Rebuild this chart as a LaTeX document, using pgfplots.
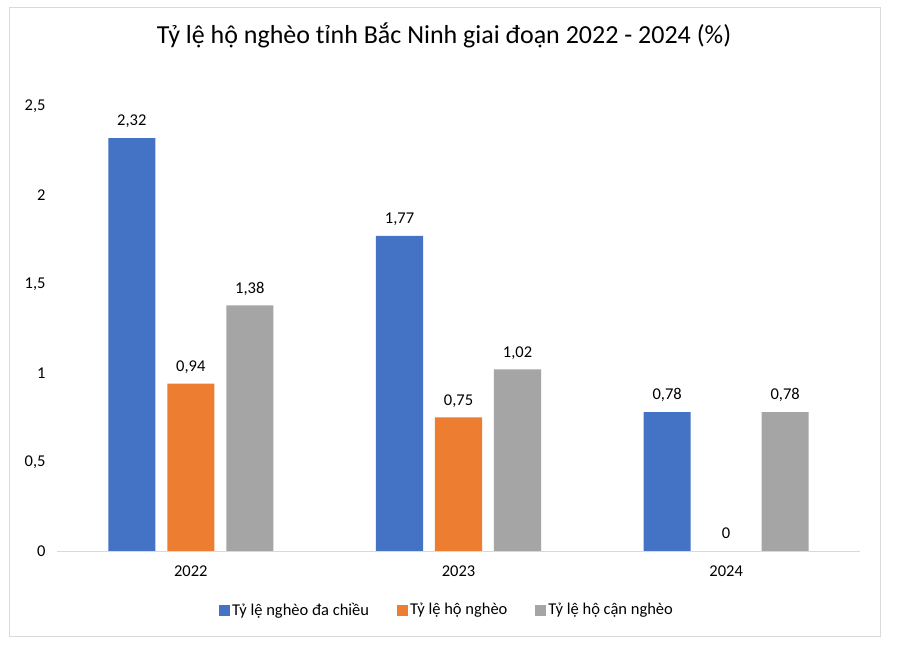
\documentclass[border=0pt]{standalone}
\usepackage{fontspec}
\setmainfont{Carlito}
\usepackage{pgfplots}
\pgfplotsset{compat=1.18}
\definecolor{cblue}{HTML}{4472C4}
\definecolor{corange}{HTML}{ED7D31}
\definecolor{cgray}{HTML}{A5A5A5}
\definecolor{frame}{HTML}{D9D9D9}

\begin{document}
\begin{tikzpicture}
\path[use as bounding box, fill=white] (0bp,0bp) rectangle (897bp,647bp);
\draw[frame, line width=1bp] (9.5bp,10bp) rectangle (880bp,639bp);
\node[font=\fontsize{26bp}{30bp}\selectfont, anchor=base] at (444bp,603bp)
  {Tỷ lệ hộ nghèo tỉnh Bắc Ninh giai đoạn 2022 - 2024 (\%)};
\begin{axis}[
  at={(57bp,96bp)}, anchor=south west,
  scale only axis, width=803bp, height=445bp,
  xmin=-0.5, xmax=2.5, ymin=0, ymax=2.5,
  ytick={0,0.5,1,1.5,2,2.5},
  xtick={0,1,2}, xticklabels={2022,2023,2024},
  major tick length=0pt,
  separate axis lines,
  axis x line*=bottom, axis y line*=left,
  x axis line style={draw=frame, line width=1bp, -},
  y axis line style={draw=none, -},
  /pgf/number format/use comma,
  /pgf/number format/assume math mode=true,
  tick label style={font=\fontsize{16.5bp}{19bp}\selectfont},
  yticklabel style={xshift=-8bp},
  xticklabel style={yshift=-11bp},
  ybar, bar width=0.176,
  nodes near coords,
  every node near coord/.append style={font=\fontsize{16.5bp}{19bp}\selectfont,
    text depth=0pt, inner sep=0pt, anchor=south, yshift=12bp},
  legend columns=3,
  legend style={at={(0.4857,-0.1326)}, anchor=center, draw=none,
    font=\fontsize{16.5bp}{19bp}\selectfont,
    /tikz/every even column/.append style={column sep=26bp}},
  legend image code/.code={\fill[#1] (0bp,-5.5bp) rectangle (11bp,5.5bp);},
]
\addplot[fill=cblue, draw=none, bar shift=-0.2204] coordinates {(0,2.32) (1,1.77) (2,0.78)};
\addplot[fill=corange, draw=none, bar shift=0] coordinates {(0,0.94) (1,0.75) (2,0)};
\addplot[fill=cgray, draw=none, bar shift=0.2204] coordinates {(0,1.38) (1,1.02) (2,0.78)};
\legend{Tỷ lệ nghèo đa chiều, Tỷ lệ hộ nghèo, Tỷ lệ hộ cận nghèo}
\end{axis}
\end{tikzpicture}
\end{document}
